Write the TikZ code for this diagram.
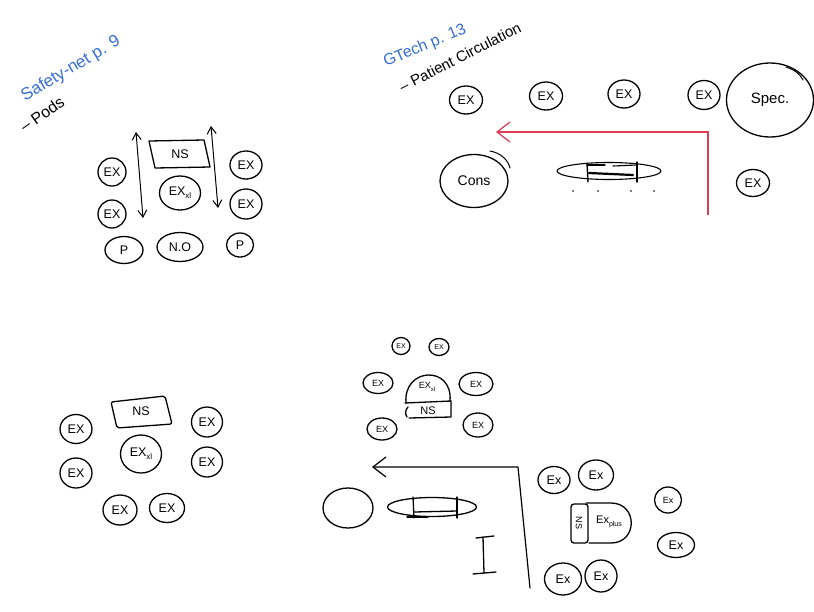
\documentclass[tikz,border=0pt]{standalone}
\usepackage{fontspec}
\setmainfont{Liberation Sans}
\usetikzlibrary{shapes.geometric,arrows.meta}
\definecolor{inkblue}{RGB}{55,110,215}
\definecolor{inkred}{RGB}{222,60,80}
\newcommand{\fs}[1]{\fontsize{#1}{#1}\selectfont}
\newcommand{\xlsub}[1]{\raisebox{-3pt}{\fs{#1}xl}}
\begin{document}
\begin{tikzpicture}[x=1pt,y=-1pt,
  ink/.style={line width=1.3pt, line cap=round, line join=round},
  pod/.style={draw, ellipse, ink, inner sep=0pt, font=\fs{12.5}},
  sz/.style 2 args={minimum width=#1pt, minimum height=#2pt},
  lbl/.style={inner sep=0pt, font=\fs{12.5}},
  barb/.style={-{Straight Barb[length=13pt,width=20pt]}},
  dbarb/.style={{Straight Barb[length=7pt,width=9pt]}-{Straight Barb[length=7pt,width=9pt]}}]
\fill[white] (0,0) rectangle (814,611);
\useasboundingbox (0,0) rectangle (814,611);

% ---------------- top left: Safety-net ----------------
\node[inner sep=0pt, font=\fs{17}, text=inkblue, rotate=31] (t1) at (71,69) {Safety-net p. 9};
\node[inner sep=0pt, font=\fs{16}, rotate=35] (t2) at (42,114) {-- Pods};

\node[lbl] (tlns) at (180,154) {NS};
\draw[ink] (149,141) -- (204,140) -- (210,167) -- (155,168) -- cycle;
\node[pod, sz={28}{28}] (tlex1) at (112,172) {EX};
\node[pod, sz={28}{28}] (tlex2) at (112,214) {EX};
\node[pod, sz={32}{28}] (tlex3) at (246,165) {EX};
\node[pod, sz={32}{30}] (tlex4) at (246,204) {EX};
\node[pod, sz={41}{34}] (tlxl) at (180,193) {EX\xlsub{8}};
\node[pod, sz={38}{27}] (tlp1) at (124,250) {P};
\node[pod, sz={46}{29}] (tlno) at (180,247) {N.O};
\node[pod, sz={27}{24}] (tlp2) at (240,245) {P};
\coordinate (a1t) at (136,132);
\coordinate (a1b) at (143,218);
\coordinate (a2t) at (211,126);
\coordinate (a2b) at (218,208);
\draw[ink, line width=1pt, dbarb] (a1t) -- (a1b);
\draw[ink, line width=1pt, dbarb] (a2t) -- (a2b);

% ---------------- top right: GTech ----------------
\node[inner sep=0pt, font=\fs{16}, text=inkblue, rotate=23] (t3) at (425,46) {GTech p. 13};
\node[inner sep=0pt, font=\fs{15}, rotate=27] (t4) at (460,57) {-- Patient Circulation};

\node[pod, sz={33}{28}] (trex1) at (466,100) {EX};
\node[pod, sz={33}{28}] (trex2) at (546,96) {EX};
\node[pod, sz={32}{28}] (trex3) at (624,94) {EX};
\node[pod, sz={32}{29}] (trex4) at (704,95) {EX};
\node[pod, sz={87}{74}, font=\fs{15}] (spec) at (770,100) {Spec.};
\node[pod, sz={68}{53}, font=\fs{14}] (cons) at (474,181) {Cons};
\draw[ink, line width=1pt] (490,151) .. controls (501,153) and (508,160) .. (510,168);
\draw[ink, line width=1pt] (786,67) .. controls (795,70) and (800,74) .. (803,80);
\node[pod, sz={33}{27}] (trex5) at (753,183) {EX};
\node[draw, ellipse, ink, line width=1.1pt, inner sep=0pt, sz={104}{17}] (trtab) at (609,171) {};
\draw[ink, line width=1.4pt] (587,163) -- (588,182);
\draw[ink, line width=1.4pt] (637,162) -- (637,182);
\draw[ink, line width=1.1pt] (587,165) -- (605,165);
\draw[ink, line width=1.1pt] (613,166) -- (637,165);
\draw[ink, line width=2.2pt] (589,173) -- (633,175);
\foreach \dx in {573,598,631,654} \fill (\dx,191) circle (0.9pt);
\coordinate (rs) at (708,215);
\coordinate (rc) at (708,132);
\coordinate (re) at (496,132);
\draw[inkred, line width=1.2pt, barb] (rs) -- (rc) -- (re);

% ---------------- bottom left ----------------
\node[lbl] (blns) at (141,411) {NS};
\draw[ink, rounded corners=2pt] (111,402) -- (165,396) -- (172,424) -- (117,428) -- cycle;
\node[pod, sz={41}{38}] (blxl) at (141,454) {EX\xlsub{8}};
\node[pod, sz={32}{29}] (blex1) at (76,429) {EX};
\node[pod, sz={32}{30}] (blex2) at (76,473) {EX};
\node[pod, sz={31}{30}] (blex3) at (207,422) {EX};
\node[pod, sz={31}{30}] (blex4) at (207,462) {EX};
\node[pod, sz={34}{30}] (blex5) at (120,510) {EX};
\node[pod, sz={35}{29}] (blex6) at (167,508) {EX};

% ---------------- bottom middle ----------------
\node[pod, sz={18}{17}, font=\fs{7}] (bms1) at (401,346) {EX};
\node[pod, sz={20}{17}, font=\fs{7}] (bms2) at (439,347) {EX};
\node[pod, sz={30}{21}, font=\fs{9}] (bmex1) at (378,383) {EX};
\node[pod, sz={34}{23}, font=\fs{9}] (bmex2) at (476,384) {EX};
\node[pod, sz={30}{22}, font=\fs{9}] (bmex3) at (382,429) {EX};
\node[pod, sz={30}{24}, font=\fs{9}] (bmex4) at (478,425) {EX};
\draw[ink] (406,403) .. controls (403,367) and (453,365) .. (450,401);
\node[lbl, font=\fs{9}] (bmxl) at (427,387) {EX\xlsub{6}};
\draw[ink] (405,403) -- (451,401) -- (451,417) -- (409,418);
\draw[ink] (408,407) .. controls (405,410) and (405,414) .. (407,417);
\node[lbl, font=\fs{11}] (bmns) at (428,411) {NS};
\node[draw, ellipse, ink, inner sep=0pt, sz={50}{40}] (bmcirc) at (348,508) {};
\node[draw, ellipse, ink, inner sep=0pt, sz={89}{19}] (bmtab) at (432,507) {};
\draw[ink] (413,497) -- (414,518);
\draw[ink] (457,497) -- (457,518);
\draw[ink] (414,512) -- (457,511);
\draw[ink] (407,517) -- (428,517);
\draw[ink] (483,537) -- (484,573);
\draw[ink] (476,538) -- (494,536);
\draw[ink] (473,574) -- (496,572);
\coordinate (bs) at (530,588);
\coordinate (bc) at (518,467);
\coordinate (be) at (372,467);
\draw[ink, line width=1.2pt, barb] (bs) -- (bc) -- (be);

% ---------------- bottom right ----------------
\node[pod, sz={32}{27}] (brex1) at (554,480) {Ex};
\node[pod, sz={35}{30}] (brex2) at (596,475) {Ex};
\node[pod, sz={27}{26}, font=\fs{9}] (brex3) at (668,500) {Ex};
\node[pod, sz={37}{25}] (brex4) at (676,545) {Ex};
\node[pod, sz={37}{32}] (brex5) at (563,579) {Ex};
\node[pod, sz={32}{32}] (brex6) at (601,576) {Ex};
\draw[ink, rounded corners=3pt] (571,504) rectangle (588,543);
\node[lbl, font=\fs{9}, rotate=-90] (brns) at (579,523) {NS};
\draw[ink] (586,503) -- (611,503) .. controls (638,503) and (638,543) .. (611,543) -- (589,543);
\node[lbl, font=\fs{11}] (brplus) at (609,522) {Ex\raisebox{-3pt}{\fs{7}plus}};
\end{tikzpicture}
\end{document}
